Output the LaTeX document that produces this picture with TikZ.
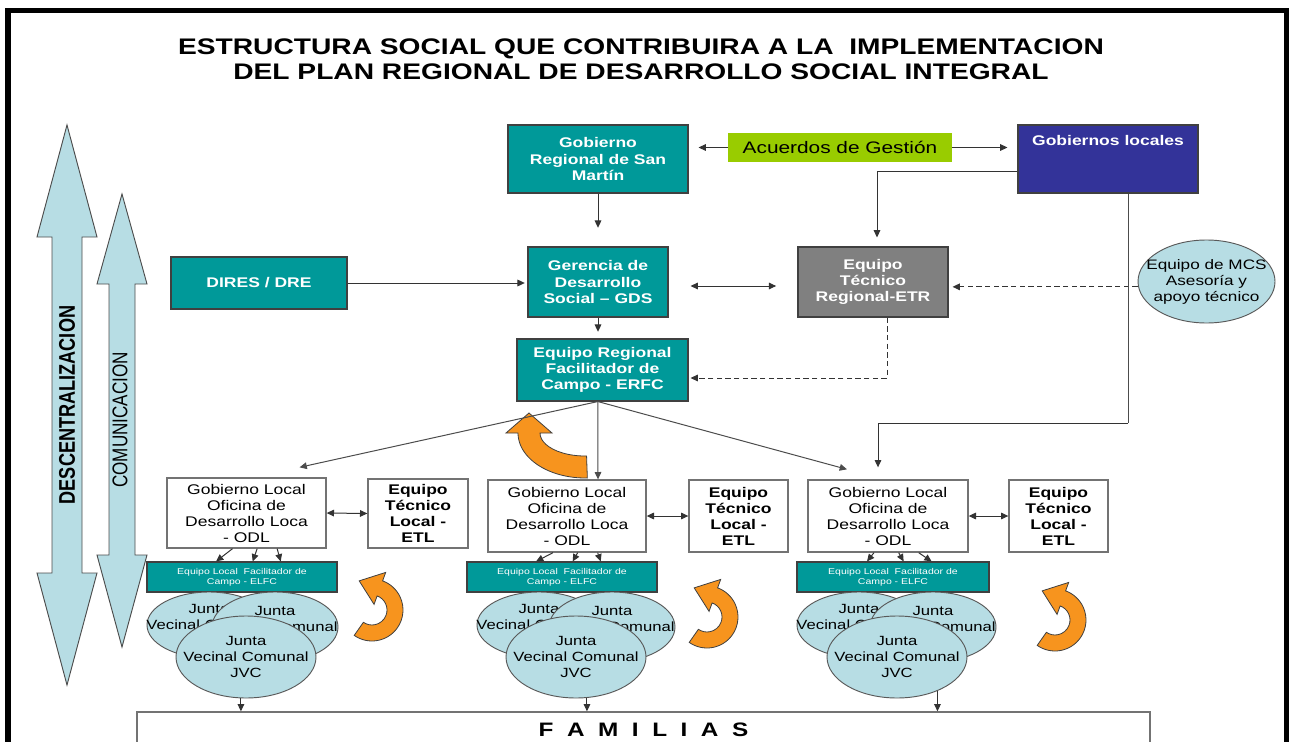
\documentclass[tikz,border=0pt]{standalone}
\usepackage{fontspec}
\setmainfont{Liberation Sans}[FakeStretch=1.25]
\newfontfamily\vertfont{Liberation Sans}[FakeStretch=0.8]
\usetikzlibrary{arrows.meta,shapes.geometric}

\definecolor{tealfill}{RGB}{0,153,153}
\definecolor{navyfill}{RGB}{51,51,153}
\definecolor{limefill}{RGB}{153,204,0}
\definecolor{paleblue}{RGB}{183,221,228}
\definecolor{orangefill}{RGB}{247,148,30}
\definecolor{etrgray}{RGB}{128,128,128}

% curved orange arrow: cx, cy, rx, ry, thickness, start angle, end angle, head half width, head length
\newcommand{\curlarrow}[9]{%
  \pgfmathsetmacro{\cdir}{ifthenelse(#7>#6,90,-90)}
  \filldraw[curl] ({#1+(#3+#5/2)*cos(#6)},{#2+(#4+#5/2)*sin(#6)})
    arc[start angle=#6, end angle=#7, x radius={#3+#5/2}, y radius={#4+#5/2}]
    -- ({#1+(#3+#8)*cos(#7)},{#2+(#4+#8)*sin(#7)})
    -- ({#1+#3*cos(#7)+#9*cos(#7+\cdir)},{#2+#4*sin(#7)+#9*sin(#7+\cdir)})
    -- ({#1+(#3-#8)*cos(#7)},{#2+(#4-#8)*sin(#7)})
    -- ({#1+(#3-#5/2)*cos(#7)},{#2+(#4-#5/2)*sin(#7)})
    arc[start angle=#7, end angle=#6, x radius={#3-#5/2}, y radius={#4-#5/2}]
    -- cycle;}

\begin{document}
\begin{tikzpicture}[x=0.75pt,y=-0.75pt,
    tealbox/.style={draw=black!75, line width=0.8pt, fill=tealfill, text=white, align=center,
      inner sep=1pt, font=\bfseries\fontsize{10.5}{12.2}\selectfont},
    whitebox/.style={draw=black!55, line width=1pt, fill=white, align=center, inner sep=0pt,
      font=\fontsize{10.5}{12}\selectfont},
    jvcoval/.style={ellipse, draw=black!65, line width=0.7pt, fill=paleblue, align=center,
      inner xsep=-16pt, inner ysep=0pt, font=\fontsize{10}{12.3}\selectfont},
    link/.style={black!80, line width=0.75pt, -{Triangle[length=5.5pt,width=5pt]}},
    twoway/.style={black!80, line width=0.75pt,
      {Triangle[length=5.5pt,width=5pt]}-{Triangle[length=5.5pt,width=5pt]}},
    hint/.style={link, dash pattern=on 4pt off 2.5pt},
    curl/.style={fill=orangefill, draw=black!75, line width=0.6pt},
    bigarrow/.style={fill=paleblue, draw=black!70, line width=0.7pt}]

    \useasboundingbox (0,0) rectangle (1289,742);
    \draw[line width=4pt] (8,10.5) rectangle (1286.5,800);

    \node[font=\bfseries\fontsize{16.9}{18.75}\selectfont, align=center] (title) at (641,59.5)
      {ESTRUCTURA SOCIAL QUE CONTRIBUIRA A LA~ IMPLEMENTACION\\DEL PLAN REGIONAL DE DESARROLLO SOCIAL INTEGRAL};

    % side arrows
    \filldraw[bigarrow] (67,125) -- (97,237) -- (82,237) -- (82,573) -- (97,573) -- (67,685)
      -- (37,573) -- (52,573) -- (52,237) -- (37,237) -- cycle;
    \filldraw[bigarrow] (122,194) -- (147,284) -- (135,284) -- (135,555) -- (147,555) -- (122,647)
      -- (97,555) -- (109,555) -- (109,284) -- (97,284) -- cycle;
    \node[rotate=90, font=\vertfont\bfseries\fontsize{17}{17}\selectfont] (descent) at (67,405) {DESCENTRALIZACION};
    \node[rotate=90, font=\vertfont\fontsize{16}{16}\selectfont] (comunic) at (120,420) {COMUNICACION};

    % regional level
    \node[tealbox, minimum width=135pt, minimum height=51pt] (gobreg) at (598,159) {Gobierno\\Regional de San\\Martín};
    \node[fill=limefill, minimum width=168pt, minimum height=21.75pt, inner sep=0pt,
      font=\fontsize{12.5}{14}\selectfont] (acuerdos) at (840,147.5) {Acuerdos de Gestión};
    \node[draw=black!75, line width=0.8pt, fill=navyfill, minimum width=135pt, minimum height=51pt] (gobloc) at (1108,159) {};
    \node[text=white, font=\bfseries\fontsize{10.5}{12}\selectfont] (goblocname) at (1108,140) {Gobiernos locales};
    \node[tealbox, minimum width=132pt, minimum height=39pt] (dires) at (259,283) {DIRES / DRE};
    \node[tealbox, minimum width=105pt, minimum height=52.5pt] (gds) at (598,282) {Gerencia de\\Desarrollo\\Social – GDS};
    \node[tealbox, fill=etrgray, minimum width=112.5pt, minimum height=52.5pt] (etr) at (873,282) {Equipo\\Técnico\\Regional-ETR};
    \node[tealbox, minimum width=128.25pt, minimum height=46.5pt] (erfc) at (602.5,370) {Equipo Regional\\Facilitador de\\Campo - ERFC};
    \node[jvcoval, inner xsep=-11pt, minimum width=102.75pt, minimum height=62.25pt, font=\fontsize{10.3}{12}\selectfont] (mcs) at (1206.5,281.5)
      {Equipo de MCS\\Asesoría y\\apoyo técnico};

    % orange arrows
    \curlarrow{585}{433}{56}{34}{22}{88}{180}{23}{20}
    \curlarrow{372}{610}{23}{23}{16}{125}{-70}{17}{22}
    \curlarrow{707}{617}{23}{23}{16}{125}{-70}{17}{22}
    \curlarrow{1055}{620}{23}{23}{16}{125}{-70}{17}{22}

    % local level
    \node[whitebox, minimum width=119.25pt, minimum height=52.5pt] (odl1) at (246.5,513) {Gobierno Local\\Oficina de\\Desarrollo Loca\\- ODL};
    \node[whitebox, minimum width=118.5pt, minimum height=54pt] (odl2) at (567,516) {Gobierno Local\\Oficina de\\Desarrollo Loca\\- ODL};
    \node[whitebox, minimum width=120pt, minimum height=54pt] (odl3) at (888,516) {Gobierno Local\\Oficina de\\Desarrollo Loca\\- ODL};
    \node[whitebox, font=\bfseries\fontsize{10.5}{12}\selectfont, minimum width=75pt, minimum height=51.75pt] (etl1) at (418,513.5) {Equipo\\Técnico\\Local -\\ETL};
    \node[whitebox, font=\bfseries\fontsize{10.5}{12}\selectfont, minimum width=74.25pt, minimum height=54pt] (etl2) at (738.5,516) {Equipo\\Técnico\\Local -\\ETL};
    \node[whitebox, font=\bfseries\fontsize{10.5}{12}\selectfont, minimum width=74.25pt, minimum height=54pt] (etl3) at (1058.5,516) {Equipo\\Técnico\\Local -\\ETL};
    \node[tealbox, font=\fontsize{6.3}{7.5}\selectfont, minimum width=142.5pt, minimum height=22.5pt] (elfc1) at (242,577) {Equipo Local~ Facilitador de\\Campo - ELFC};
    \node[tealbox, font=\fontsize{6.3}{7.5}\selectfont, minimum width=142.5pt, minimum height=22.5pt] (elfc2) at (562,577) {Equipo Local~ Facilitador de\\Campo - ELFC};
    \node[tealbox, font=\fontsize{6.3}{7.5}\selectfont, minimum width=144pt, minimum height=22.5pt] (elfc3) at (893,577) {Equipo Local~ Facilitador de\\Campo - ELFC};

    \node[jvcoval, minimum width=93pt, minimum height=49.5pt] (jvc1a) at (209,625) {Junta\\Vecinal Comunal\\JVC};
    \node[jvcoval, minimum width=94.5pt, minimum height=52.5pt] (jvc1b) at (275,627) {Junta\\Vecinal Comunal\\JVC};
    \node[jvcoval, minimum width=105pt, minimum height=61.5pt] (jvc1c) at (246,657) {Junta\\Vecinal Comunal\\JVC};
    \node[jvcoval, minimum width=93pt, minimum height=49.5pt] (jvc2a) at (539,625) {Junta\\Vecinal Comunal\\JVC};
    \node[jvcoval, minimum width=94.5pt, minimum height=52.5pt] (jvc2b) at (612,627) {Junta\\Vecinal Comunal\\JVC};
    \node[jvcoval, minimum width=105pt, minimum height=61.5pt] (jvc2c) at (576,657) {Junta\\Vecinal Comunal\\JVC};
    \node[jvcoval, minimum width=93pt, minimum height=49.5pt] (jvc3a) at (859,625) {Junta\\Vecinal Comunal\\JVC};
    \node[jvcoval, minimum width=94.5pt, minimum height=52.5pt] (jvc3b) at (933,627) {Junta\\Vecinal Comunal\\JVC};
    \node[jvcoval, minimum width=105pt, minimum height=61.5pt] (jvc3c) at (897,657) {Junta\\Vecinal Comunal\\JVC};

    \node[whitebox, minimum width=759.75pt, minimum height=27pt, font=\bfseries\fontsize{14.6}{16}\selectfont] (familias) at (643.5,730)
      {F~ A~ M~ I~ L~ I~ A~ S};

    % connectors
    \draw[link, shorten >=7.5pt] (acuerdos.west) -- (acuerdos.west -| gobreg.east);
    \draw[link, shorten >=7.5pt] (acuerdos.east) -- (acuerdos.east -| gobloc.west);
    \draw[link, shorten >=14pt] (gobreg.south) -- (gds.north);
    \draw[link] ([yshift=-9pt]gobloc.west) -| ([shift={(4,-9)}]etr.north);
    \draw[link, shorten >=2pt] (dires.east) -- (dires.east -| gds.west);
    \draw[twoway, shorten >=16pt, shorten <=16.5pt] ([yshift=-3pt]gds.east) -- ([yshift=-3pt]etr.west);
    \draw[link, shorten >=5pt] (gds.south) -- (gds.south |- erfc.north);
    \draw[hint] ([xshift=10.5pt]etr.south) |- ([shift={(2,8)}]erfc.east);
    \draw[hint, shorten >=3pt] ([yshift=-4pt]mcs.west) -- ([yshift=-4pt]mcs.west -| etr.east);
    \coordinate (bend) at (1128,423);
    \draw[black!70, line width=0.75pt] ([xshift=15pt]gobloc.south) -- (bend);
    \draw[link] (bend) -| ([shift={(-10,-12)}]odl3.north);

    \draw[link, black!70] ([xshift=-3.5pt]erfc.south) -- ([shift={(53,-10)}]odl1.north);
    \draw[link, black!70] ([xshift=-3.5pt]erfc.south) -- ([shift={(31,0)}]odl2.north);
    \draw[link, black!70] ([xshift=-3.5pt]erfc.south) -- ([shift={(-41,-10)}]odl3.north);

    \draw[twoway] (odl1.east) -- (etl1.west);
    \draw[twoway] (odl2.east) -- (etl2.west);
    \draw[twoway] (odl3.east) -- (etl3.west);

    \draw[link] ([xshift=-10.5pt]odl1.south) -- ([xshift=-19.5pt]elfc1.north);
    \draw[link] ([xshift=8pt]odl1.south) -- ([xshift=8pt]elfc1.north);
    \draw[link] ([xshift=23pt]odl1.south) -- ([xshift=29pt]elfc1.north);
    \draw[link] ([xshift=-10.5pt]odl2.south) -- ([xshift=-19.5pt]elfc2.north);
    \draw[link] ([xshift=8pt]odl2.south) -- ([xshift=8pt]elfc2.north);
    \draw[link] ([xshift=23pt]odl2.south) -- ([xshift=29pt]elfc2.north);
    \draw[link] ([xshift=-10.5pt]odl3.south) -- ([xshift=-19.5pt]elfc3.north);
    \draw[link] ([xshift=8pt]odl3.south) -- ([xshift=8pt]elfc3.north);
    \draw[link] ([xshift=23pt]odl3.south) -- ([xshift=29pt]elfc3.north);

    \draw[link] (jvc1c.-97) -- (jvc1c.-97 |- familias.north);
    \draw[link] (jvc2c.-75) -- (jvc2c.-75 |- familias.north);
    \draw[link] (jvc3c.-40) -- (jvc3c.-40 |- familias.north);

\end{tikzpicture}
\end{document}
